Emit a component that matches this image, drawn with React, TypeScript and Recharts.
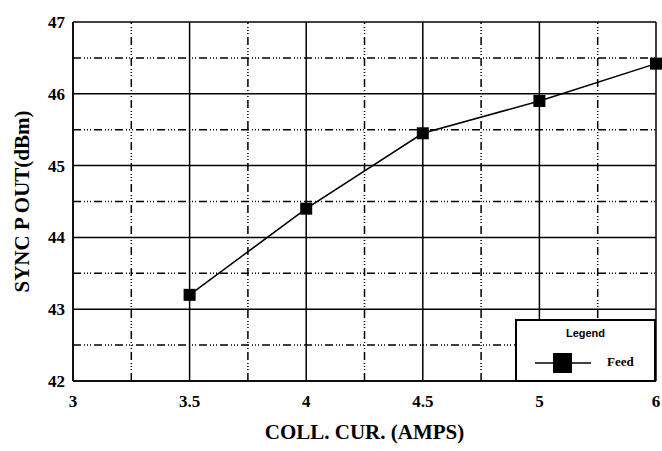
import { LineChart, Line, XAxis, YAxis, CartesianGrid, ReferenceLine } from "recharts"

const categories = ["3", "3.5", "4", "4.5", "5", "6"]
const feedValues: (number | null)[] = [null, 43.2, 44.4, 45.45, 45.9, 46.42]
const yTicks = [42, 43, 44, 45, 46, 47]
const yMinor = [42.5, 43.5, 44.5, 45.5, 46.5]
const xMinor = [0.5, 1.5, 2.5, 3.5, 4.5]

const data = categories.map((c, i) => ({ i, label: c, feed: feedValues[i] }))

const serif = "'Liberation Serif', 'DejaVu Serif', serif"
const minorDash = "8 3 1 2 1 2 1 3"

const SquareDot = (props: any) => {
  const { cx, cy, index } = props
  if (cx == null || cy == null || props.value == null) return <g key={"d" + index} />
  return <rect key={"d" + index} x={cx - 6} y={cy - 6} width={12} height={12} fill="#000" />
}

const LegendBox = () => (
  <div
    style={{
      position: "absolute",
      left: 515,
      top: 319,
      width: 137,
      height: 59,
      border: "2px solid #000",
      background: "#fff",
    }}
  >
    <div
      style={{
        position: "absolute",
        top: 6,
        left: 0,
        width: "100%",
        textAlign: "center",
        fontFamily: "'Liberation Sans', Arial, sans-serif",
        fontWeight: 700,
        fontSize: 11,
      }}
    >
      Legend
    </div>
    <svg width={80} height={22} style={{ position: "absolute", left: 16, top: 31 }}>
      <line x1={2} y1={11} x2={58} y2={11} stroke="#000" strokeWidth={1.5} />
      <rect x={20} y={1} width={19} height={20} fill="#000" />
    </svg>
    <div
      style={{
        position: "absolute",
        left: 90,
        top: 33,
        fontFamily: serif,
        fontWeight: 700,
        fontSize: 13,
      }}
    >
      Feed
    </div>
  </div>
)

export default function App() {
  return (
    <div style={{ position: "absolute", left: 0, top: 0, width: 662, height: 451, background: "#fff" }}>
      <LineChart width={662} height={451} data={data} margin={{ top: 22, right: 6, left: 0, bottom: 0 }}>
        <CartesianGrid stroke="#000" strokeWidth={1.5} />
        {xMinor.map((x) => (
          <ReferenceLine key={"x" + x} x={x} stroke="#000" strokeWidth={1.5} strokeDasharray={minorDash} />
        ))}
        {yMinor.map((y) => (
          <ReferenceLine key={"y" + y} y={y} stroke="#000" strokeWidth={1.5} strokeDasharray={minorDash} />
        ))}
        <XAxis
          dataKey="i"
          type="number"
          domain={[0, 5]}
          ticks={[0, 1, 2, 3, 4, 5]}
          tickFormatter={(v: number) => categories[v]}
          height={70}
          tickLine={false}
          axisLine={{ stroke: "#000", strokeWidth: 1.5 }}
          tick={{ fill: "#000", fontFamily: serif, fontWeight: 700, fontSize: 17, dy: 6 }}
          label={{
            value: "COLL. CUR. (AMPS)",
            position: "insideBottom",
            offset: 12,
            fill: "#000",
            style: { fontFamily: serif, fontWeight: 700, fontSize: 21 },
          }}
        />
        <YAxis
          type="number"
          domain={[42, 47]}
          ticks={yTicks}
          width={73}
          tickLine={false}
          axisLine={{ stroke: "#000", strokeWidth: 1.5 }}
          tick={{ fill: "#000", fontFamily: serif, fontWeight: 700, fontSize: 17 }}
          label={{
            value: "SYNC P OUT(dBm)",
            angle: -90,
            position: "insideLeft",
            offset: 22,
            fill: "#000",
            style: { fontFamily: serif, fontWeight: 700, fontSize: 21, textAnchor: "middle" },
          }}
        />
        <Line
          dataKey="feed"
          stroke="#000"
          strokeWidth={1.5}
          dot={SquareDot}
          activeDot={false}
          isAnimationActive={false}
        />
      </LineChart>
      <LegendBox />
    </div>
  )
}
